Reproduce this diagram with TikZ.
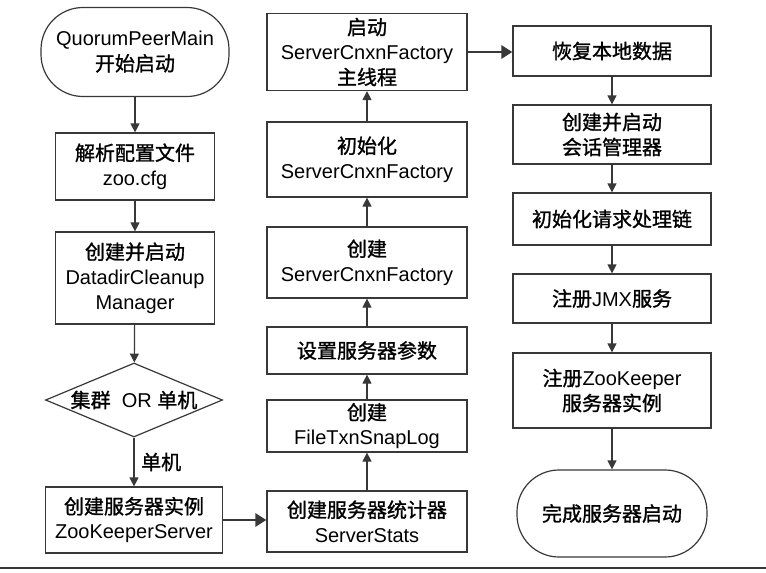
\documentclass[tikz,border=0pt]{standalone}
\usepackage{fontspec}
\setmainfont{Liberation Sans}
\newfontfamily\cj{Noto Sans CJK SC}[FakeBold=1.2]
\usetikzlibrary{arrows.meta,shapes.geometric}
\definecolor{linegray}{gray}{0.22}
\begin{document}
\begin{tikzpicture}[x=1pt,y=-1pt,
  every node/.style={font=\fontsize{20pt}{25pt}\selectfont, text=black, align=center, inner sep=0pt},
  box/.style={draw=linegray, line width=1.2pt, rectangle},
  term/.style={draw=linegray, line width=1.2pt, rectangle, rounded corners=42pt},
  dec/.style={draw=linegray, line width=1.2pt, diamond, aspect=2.4},
  vflow/.style={draw=linegray, line width=1.2pt, -{Triangle[length=9pt,width=9pt]}},
  hflow/.style={draw=linegray, line width=2.8pt, -{Triangle[length=11pt,width=13pt]}},
]
\useasboundingbox (0,0) rectangle (766,573);
% column 1
\node[term, minimum width=188pt, minimum height=89pt] (s) at (135,52) {QuorumPeerMain\\{\cj 开始启动}};
\node[box, minimum width=159pt, minimum height=67pt] (b1) at (135,166.5) {{\cj 解析配置文件}\\zoo.cfg};
\node[box, minimum width=159pt, minimum height=92pt] (b2) at (135,278) {{\cj 创建并启动}\\DatadirCleanup\\Manager};
\node[dec, minimum width=177pt, minimum height=74pt] (d) at (134,400) {{\cj 集群}\ \ OR {\cj 单机}};
\node[box, minimum width=177pt, minimum height=66pt] (b3) at (134,520) {{\cj 创建服务器实例}\\ZooKeeperServer};
\node[anchor=west] (lbl) at (141,462) {\cj 单机};
% column 2
\node[box, minimum width=200pt, minimum height=61pt] (m6) at (367,521.5) {{\cj 创建服务器统计器}\\ServerStats};
\node[box, minimum width=200pt, minimum height=52pt] (m5) at (367,426) {{\cj 创建}\\FileTxnSnapLog};
\node[box, minimum width=200pt, minimum height=47pt] (m4) at (367,350.5) {\cj 设置服务器参数};
\node[box, minimum width=200pt, minimum height=71pt] (m3) at (367,262.5) {{\cj 创建}\\ServerCnxnFactory};
\node[box, minimum width=200pt, minimum height=75pt] (m2) at (367,159.5) {{\cj 初始化}\\ServerCnxnFactory};
\node[box, minimum width=200pt, minimum height=77pt] (m1) at (367,52) {{\cj 启动}\\ServerCnxnFactory\\{\cj 主线程}};
% column 3
\node[box, minimum width=198pt, minimum height=50pt] (r1) at (612,51) {\cj 恢复本地数据};
\node[box, minimum width=198pt, minimum height=59pt] (r2) at (612,134.5) {{\cj 创建并启动}\\{\cj 会话管理器}};
\node[box, minimum width=198pt, minimum height=52pt] (r3) at (612,219) {\cj 初始化请求处理链};
\node[box, minimum width=198pt, minimum height=49pt] (r4) at (612,298.5) {{\cj 注册}JMX{\cj 服务}};
\node[box, minimum width=198pt, minimum height=75pt] (r5) at (612,390.5) {{\cj 注册}ZooKeeper\\{\cj 服务器实例}};
\node[term, minimum width=190pt, minimum height=87pt] (r6) at (612,513.5) {\cj 完成服务器启动};
% connectors
\draw[vflow] (s) -- (b1);
\draw[vflow] (b1) -- (b2);
\draw[vflow] (b2) -- (d);
\draw[vflow] (d) -- (b3);
\draw[hflow] (b3.east) -- (m6.west |- b3.east);
\draw[vflow] (m6) -- (m5);
\draw[vflow] (m5) -- (m4);
\draw[vflow] (m4) -- (m3);
\draw[vflow] (m3) -- (m2);
\draw[vflow] (m2) -- (m1);
\draw[hflow] (m1.east) -- (r1.west |- m1.east);
\draw[vflow] (r1) -- (r2);
\draw[vflow] (r2) -- (r3);
\draw[vflow] (r3) -- (r4);
\draw[vflow] (r4) -- (r5);
\draw[vflow] (r5) -- (r6);
% bottom rule
\draw[linegray, line width=1.5pt] (0,568) -- (766,568);
\end{tikzpicture}
\end{document}
